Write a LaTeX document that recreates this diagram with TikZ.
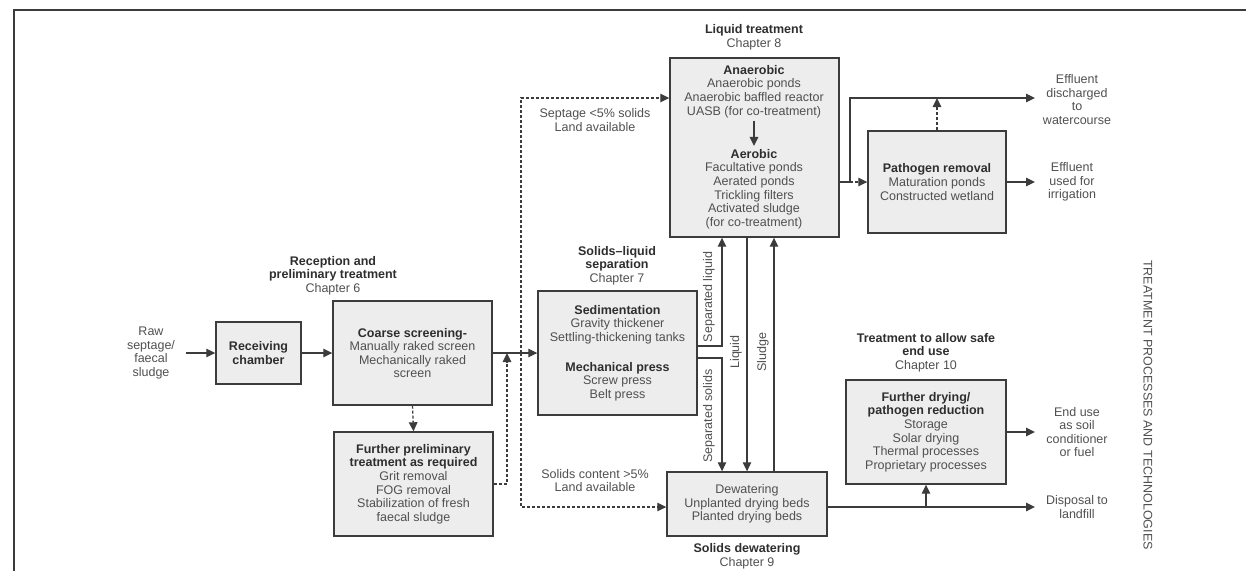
\documentclass[tikz,border=0pt]{standalone}
\usepackage{fontspec}
\setmainfont{Liberation Sans}
\usetikzlibrary{arrows.meta}
\definecolor{lnc}{HTML}{3C3C3C}
\definecolor{boxfill}{HTML}{EDEDED}
\definecolor{txt}{HTML}{505050}
\definecolor{btxt}{HTML}{2E2E2E}
\newcommand{\hd}[1]{{\bfseries\color{btxt}#1}}
\tikzset{
  every node/.style={font=\fontsize{12.5}{13.6}\selectfont, text=txt},
  box/.style={draw=lnc, line width=1.4pt, fill=boxfill, align=center, inner sep=0pt},
  lbl/.style={align=center, inner sep=0pt},
  conn/.style={draw=lnc, line width=1.3pt, -{Triangle[length=9pt,width=8.5pt]}},
  dconn/.style={conn, dash pattern=on 3pt off 2pt},
  plainline/.style={draw=lnc, line width=1.3pt},
}
\begin{document}
\begin{tikzpicture}[x=1pt,y=-1pt]
\useasboundingbox (0,0) rectangle (1246,571);
\draw[plainline] (14,571) -- (14,10) -- (1246,10);

% boxes
\node[box, minimum width=85pt, minimum height=62pt] (recv) at (258.5,353) {\hd{Receiving}\\\hd{chamber}};
\node[box, minimum width=159pt, minimum height=104pt] (coarse) at (412.5,353)
  {\hd{Coarse screening-}\\Manually raked screen\\Mechanically raked\\screen};
\node[box, minimum width=159pt, minimum height=104pt] (fprelim) at (413.5,484)
  {\hd{Further preliminary}\\\hd{treatment as required}\\Grit removal\\FOG removal\\Stabilization of fresh\\faecal sludge};
\node[box, minimum width=159pt, minimum height=124pt] (sed) at (617.5,353)
  {\hd{Sedimentation}\\Gravity thickener\\Settling-thickening tanks\\[16.4pt]\hd{Mechanical press}\\Screw press\\Belt press};
\node[box, minimum width=169pt, minimum height=179pt] (liq) at (754.5,147.5) {};
\node[lbl, inner sep=3pt] (anaer) at (754,91.5)
  {\hd{Anaerobic}\\Anaerobic ponds\\Anaerobic baffled reactor\\UASB (for co-treatment)};
\node[lbl, inner sep=3pt] (aer) at (754,189)
  {\hd{Aerobic}\\Facultative ponds\\Aerated ponds\\Trickling filters\\Activated sludge\\(for co-treatment)};
\node[box, minimum width=160pt, minimum height=64pt] (dewat) at (747,504)
  {Dewatering\\Unplanted drying beds\\Planted drying beds};
\node[box, minimum width=138pt, minimum height=102pt] (path) at (937,182)
  {\hd{Pathogen removal}\\Maturation ponds\\Constructed wetland};
\node[box, minimum width=160pt, minimum height=104pt] (fdry) at (926,432)
  {\hd{Further drying/}\\\hd{pathogen reduction}\\Storage\\Solar drying\\Thermal processes\\Proprietary processes};

% titles
\node[lbl] (t6) at (333,275.5) {\hd{Reception and}\\\hd{preliminary treatment}\\Chapter 6};
\node[lbl] (t8) at (754,37) {\hd{Liquid treatment}\\Chapter 8};
\node[lbl] (t7) at (617,265.5) {\hd{Solids–liquid}\\\hd{separation}\\Chapter 7};
\node[lbl] (t9) at (747,556) {\hd{Solids dewatering}\\Chapter 9};
\node[lbl] (t10) at (926,352.5) {\hd{Treatment to allow safe}\\\hd{end use}\\Chapter 10};

% side labels
\node[lbl] (raw) at (151,353) {Raw\\septage/\\faecal\\sludge};
\node[lbl] (sept) at (595,120) {Septage <5\% solids\\Land available};
\node[lbl] (solc) at (595,480.5) {Solids content >5\%\\Land available};
\node[lbl] (effdis) at (1077,99.5) {Effluent\\discharged\\to\\watercourse};
\node[lbl] (effirr) at (1072,182) {Effluent\\used for\\irrigation};
\node[lbl] (enduse) at (1077,432) {End use\\as soil\\conditioner\\or fuel};
\node[lbl] (land) at (1077,507) {Disposal to\\landfill};
\node[lbl, rotate=-90] (side) at (1148,405) {TREATMENT PROCESSES AND TECHNOLOGIES};

\node[lbl, rotate=90] (lsl) at (709,297) {Separated liquid};
\node[lbl, rotate=90] (lss) at (709,416) {Separated solids};
\node[lbl, rotate=90] (lliq) at (736,352) {Liquid};
\node[lbl, rotate=90] (lslu) at (763,352) {Sludge};

% coordinates
\coordinate (rawout) at (186,353);
\coordinate (j1) at (507,353);
\coordinate (dsplit) at (521,353);
\coordinate (jn) at (850,182);
\coordinate (o1) at (1035,98);
\coordinate (o2) at (1035,182);
\coordinate (o3) at (1035,432);
\coordinate (o4) at (1035,507);
\coordinate (jd) at (926,507);

% connectors
\draw[conn] (rawout) -- (recv.west);
\draw[conn] (recv.east) -- (coarse.west);
\draw[conn] (coarse.east) -- (sed.west);
\draw[dconn] (coarse.south) -- (fprelim.north);
\draw[dconn] (fprelim.east) -| (j1);
\draw[dconn] (dsplit) |- (liq.west |- 0,98);
\draw[dconn] (dsplit) |- (dewat.west |- 0,507);
\draw[conn] (anaer.south) -- (aer.north);

\draw[conn] (sed.east |- 0,346) -| (liq.south -| 722,0);
\draw[conn] (sed.east |- 0,358) -| (dewat.north -| 722,0);
\draw[conn] (liq.south -| 747,0) -- (dewat.north -| 747,0);
\draw[conn] (dewat.north -| 774,0) -- (liq.south -| 774,0);

\draw[plainline] (liq.east |- jn) -- (jn);
\draw[dconn] (jn) -- (path.west);
\draw[conn] (jn) |- (o1);
\draw[dconn] (path.north) -- (path.north |- o1);
\draw[conn] (path.east) -- (o2);

\draw[conn] (dewat.east |- jd) -- (o4);
\draw[conn] (jd) -- (fdry.south);
\draw[conn] (fdry.east) -- (o3);
\end{tikzpicture}
\end{document}
